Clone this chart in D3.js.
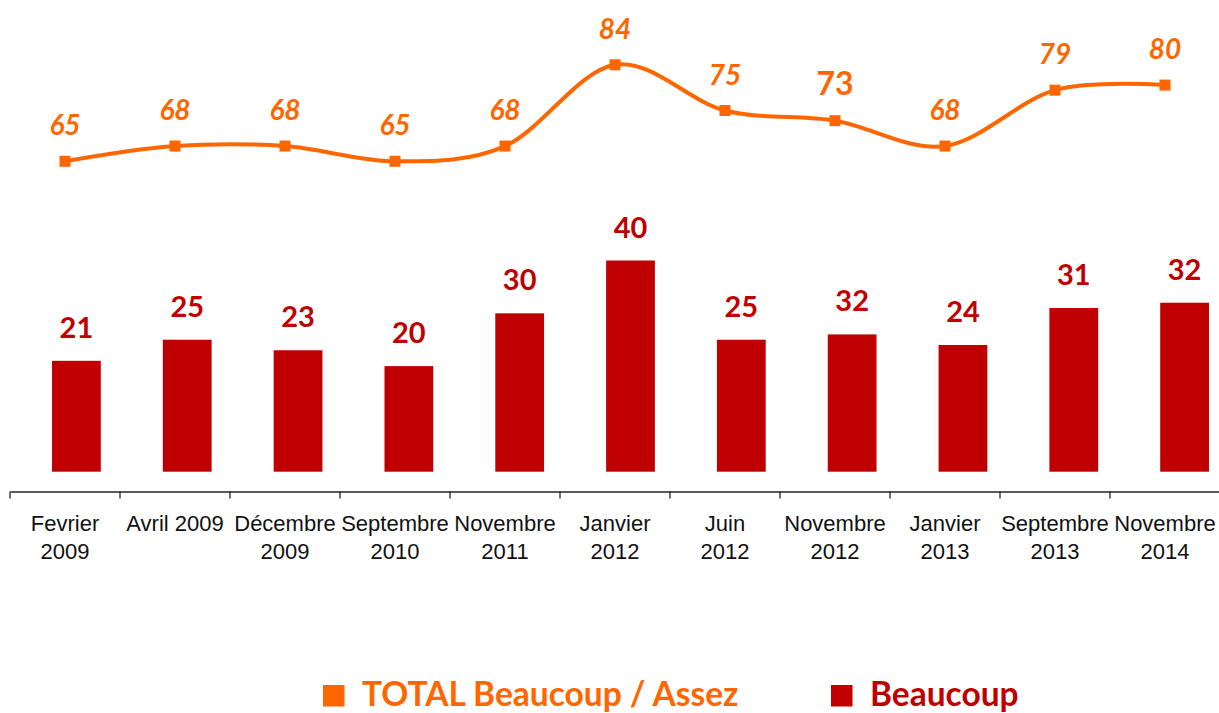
<!DOCTYPE html>
<html>
<head>
<meta charset="utf-8">
<script src="https://cdn.jsdelivr.net/npm/d3@7"></script>
<style>
  body { margin: 0; background: #fff; }
  svg { font-family: Lato, "Open Sans", sans-serif; }
</style>
</head>
<body>
<div id="chart"></div>
<script>
// Data
const categories = ["Fevrier 2009", "Avril 2009", "Décembre 2009", "Septembre 2010", "Novembre 2011",
  "Janvier 2012", "Juin 2012", "Novembre 2012", "Janvier 2013", "Septembre 2013", "Novembre 2014"];
// tick labels as they are broken in the original
const tickLabels = [["Fevrier", "2009"], ["Avril 2009"], ["Décembre", "2009"], ["Septembre", "2010"],
  ["Novembre", "2011"], ["Janvier", "2012"], ["Juin", "2012"], ["Novembre", "2012"],
  ["Janvier", "2013"], ["Septembre", "2013"], ["Novembre", "2014"]];
const totalValues = [65, 68, 68, 65, 68, 84, 75, 73, 68, 79, 80];
// bar heights as drawn; the Novembre 2012 bar is drawn at ~26 but labelled 32
const beaucoupValues = [21, 25, 23, 20, 30, 40, 25, 26, 24, 31, 32];
const beaucoupLabels = ["21", "25", "23", "20", "30", "40", "25", "32", "24", "31", "32"];
const seriesNames = ["TOTAL Beaucoup / Assez", "Beaucoup"];

const orange = "#FF6600";
const red = "#C00000";

const width = 1219, height = 713;

const svg = d3.select("#chart").append("svg")
  .attr("width", width)
  .attr("height", height);

// category axis (line sits on this one)
const x = d3.scaleBand().domain(categories).range([10, 1220]);
// bars are drawn on a slightly wider band layout
const xBar = d3.scaleBand().domain(categories).range([21, 1240])
  .paddingInner(0.56).paddingOuter(0.28);

const yBar = d3.scaleLinear().domain([0, 100]).range([471.7, -56.3]);
const yLine = d3.scaleLinear().domain([0, 100]).range([491.5, -16.5]);

// Bars
svg.selectAll("rect.bar")
  .data(beaucoupValues)
  .enter()
  .append("rect")
  .attr("class", "bar")
  .attr("x", (d, i) => xBar(categories[i]))
  .attr("y", d => yBar(d))
  .attr("width", xBar.bandwidth())
  .attr("height", d => yBar(0) - yBar(d))
  .attr("fill", red);

svg.selectAll("text.bar-label")
  .data(beaucoupValues)
  .enter()
  .append("text")
  .attr("class", "bar-label")
  .attr("x", (d, i) => xBar(categories[i]) + xBar.bandwidth() / 2)
  .attr("y", d => yBar(d) - 23)
  .attr("text-anchor", "middle")
  .attr("font-size", 29)
  .attr("font-weight", "bold")
  .attr("fill", red)
  .text((d, i) => beaucoupLabels[i]);

// Line
const cx = (d, i) => x(categories[i]) + x.bandwidth() / 2;

const line = d3.line()
  .x(cx)
  .y(d => yLine(d))
  .curve(d3.curveCardinal.tension(0));

svg.append("path")
  .datum(totalValues)
  .attr("d", line)
  .attr("fill", "none")
  .attr("stroke", orange)
  .attr("stroke-width", 4);

svg.selectAll("rect.marker")
  .data(totalValues)
  .enter()
  .append("rect")
  .attr("class", "marker")
  .attr("x", (d, i) => cx(d, i) - 5.5)
  .attr("y", d => yLine(d) - 5.5)
  .attr("width", 11)
  .attr("height", 11)
  .attr("fill", orange);

// the Novembre 2012 label is upright and a bit larger in the original
svg.selectAll("text.line-label")
  .data(totalValues)
  .enter()
  .append("text")
  .attr("class", "line-label")
  .attr("x", cx)
  .attr("y", d => yLine(d) - 26)
  .attr("text-anchor", "middle")
  .attr("font-size", (d, i) => i === 7 ? 32 : 28)
  .attr("font-weight", "bold")
  .attr("font-style", (d, i) => i === 7 ? "normal" : "italic")
  .attr("fill", orange)
  .text(d => d);

// x axis
const xAxis = d3.axisBottom(x).tickSize(0).tickFormat("");
const gx = svg.append("g")
  .attr("class", "x-axis")
  .attr("transform", "translate(0, 491.5)")
  .call(xAxis);
gx.select(".domain").attr("stroke", "#222").attr("stroke-width", 1.3);

// tick marks at band boundaries
gx.selectAll("line.sep")
  .data(categories)
  .enter()
  .append("line")
  .attr("class", "sep")
  .attr("x1", d => x(d))
  .attr("x2", d => x(d))
  .attr("y1", 0)
  .attr("y2", 7)
  .attr("stroke", "#222")
  .attr("stroke-width", 1.3);

gx.selectAll("text.cat")
  .data(categories)
  .enter()
  .append("text")
  .attr("class", "cat")
  .attr("x", d => x(d) + x.bandwidth() / 2)
  .attr("y", 39.2)
  .attr("text-anchor", "middle")
  .attr("font-size", 22)
  .attr("fill", "#111")
  .each(function(d, i) {
    const t = d3.select(this);
    tickLabels[i].forEach((w, k) => {
      t.append("tspan")
        .attr("x", x(d) + x.bandwidth() / 2)
        .attr("dy", k === 0 ? 0 : 28.6)
        .text(w);
    });
  });

// Legend
const legend = svg.append("g").attr("class", "legend");
const legendItems = [
  { name: seriesNames[0], color: orange, x: 323 },
  { name: seriesNames[1], color: red, x: 831 }
];
legendItems.forEach(item => {
  legend.append("rect")
    .attr("x", item.x)
    .attr("y", 685)
    .attr("width", 21.5)
    .attr("height", 21.5)
    .attr("fill", item.color);
  legend.append("text")
    .attr("x", item.x + 39)
    .attr("y", 706)
    .attr("font-size", 33.5)
    .attr("font-weight", "bold")
    .attr("fill", item.color)
    .text(item.name);
});
</script>
</body>
</html>
